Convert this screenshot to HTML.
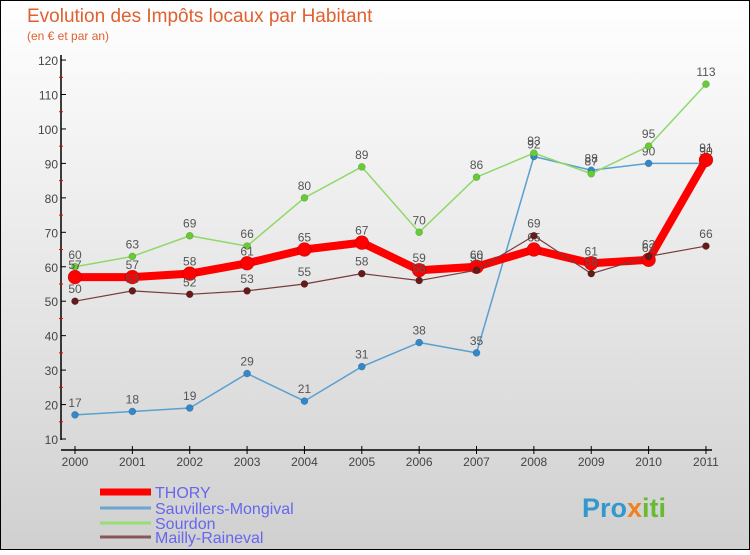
<!DOCTYPE html>
<html><head><meta charset="utf-8"><style>
body{margin:0;width:750px;height:550px;overflow:hidden;font-family:"Liberation Sans",sans-serif}
</style></head><body>
<svg id="c" width="750" height="550" xmlns="http://www.w3.org/2000/svg">
<defs><linearGradient id="bg" x1="0" y1="0" x2="0" y2="1"><stop offset="0" stop-color="#ffffff"/><stop offset="1" stop-color="#d0d0d0"/></linearGradient></defs>
<rect x="0.5" y="0.5" width="749" height="549" fill="url(#bg)" stroke="#000"/>
<text x="27" y="22" font-size="19" fill="#e06030">Evolution des Impôts locaux par Habitant</text>
<text x="27" y="40" font-size="12" fill="#e06030">(en € et par an)</text>
<g id="axes"></g><g id="series"></g><g id="legend"></g>
<text x="582" y="517" font-size="27" font-weight="bold"><tspan fill="#3399cc">Pro</tspan><tspan fill="#f08020">x</tspan><tspan fill="#66bb33">iti</tspan></text>
</svg>
<script>
const years=["2000","2001","2002","2003","2004","2005","2006","2007","2008","2009","2010","2011"];
const yTicks=[10,20,30,40,50,60,70,80,90,100,110,120];
const thory=[57,57,58,61,65,67,59,60,65,61,62,91];
const sauvillers=[17,18,19,29,21,31,38,35,92,88,90,90];
const sourdon=[60,63,69,66,80,89,70,86,93,87,95,113];
const mailly=[50,53,52,53,55,58,56,59,69,58,63,66];
const NS="http://www.w3.org/2000/svg";
const X=i=>75+i*57.36, Y=v=>439-(v-10)*3.445;
function mk(tag,at,p){const e=document.createElementNS(NS,tag);for(const k in at)e.setAttribute(k,at[k]);p.appendChild(e);return e;}
const ax=document.getElementById('axes');
let l=mk('line',{x1:61,y1:55,x2:61,y2:440,stroke:'#000','stroke-width':1.5},ax);


l=mk('line',{x1:61,y1:450,x2:712,y2:450,stroke:'#000','stroke-width':1.5},ax);


yTicks.forEach(v=>{mk('line',{x1:61,y1:Y(v),x2:66,y2:Y(v),stroke:'#000'},ax);
 if(v<120)mk('line',{x1:59,y1:Y(v+5),x2:63,y2:Y(v+5),stroke:'#e00'},ax);
 const t=mk('text',{x:58,y:Y(v)+5,'text-anchor':'end','font-size':12,fill:'#444'},ax);t.textContent=v;
 
 });
years.forEach((y,i)=>{mk('line',{x1:X(i),y1:446,x2:X(i),y2:454,stroke:'#000'},ax);
 const t=mk('text',{x:X(i),y:466,'text-anchor':'middle','font-size':12,fill:'#444'},ax);t.textContent=y;
 
 });
const sg=document.getElementById('series');
function draw(data,color,dot,w,r,name){
 const g=mk('g',{},sg);
 
 
 mk('polyline',{points:data.map((v,i)=>X(i)+','+Y(v)).join(' '),fill:'none',stroke:color,'stroke-width':w,'stroke-linejoin':'round'},g);
 data.forEach((v,i)=>{const c=mk('circle',{cx:X(i),cy:Y(v),r:r,fill:dot,stroke:'rgba(0,0,0,0.3)','stroke-width':0.5},g);
  
  
  const t=mk('text',{x:X(i),y:Y(v)-8,'text-anchor':'middle','font-size':12,fill:'#555'},g);t.textContent=v;
  
  });
}
draw(sauvillers,'#5aa0d0','#3388cc',1.5,3.5,'sauvillers');
draw(sourdon,'#8fd86a','#66cc33',1.5,3.5,'sourdon');
draw(thory,'#ff0000','#ff0000',8,7,'thory');
draw(mailly,'#7a3a3a','#661a1a',1.2,3.5,'mailly');
const lg=document.getElementById('legend');
[['THORY','#ff0000',7,492],['Sauvillers-Mongival','#6aa6d0',3,508],['Sourdon','#99dd77',3,523],['Mailly-Raineval','#8a5555',3,537]].forEach(d=>{
 const g=mk('g',{},lg);
 
 
 mk('line',{x1:100,y1:d[3],x2:151,y2:d[3],stroke:d[1],'stroke-width':d[2]},g);
 const t=mk('text',{x:155,y:d[3]+6,'font-size':16,fill:'#6666ee'},g);t.textContent=d[0];});
</script>
</body></html>
